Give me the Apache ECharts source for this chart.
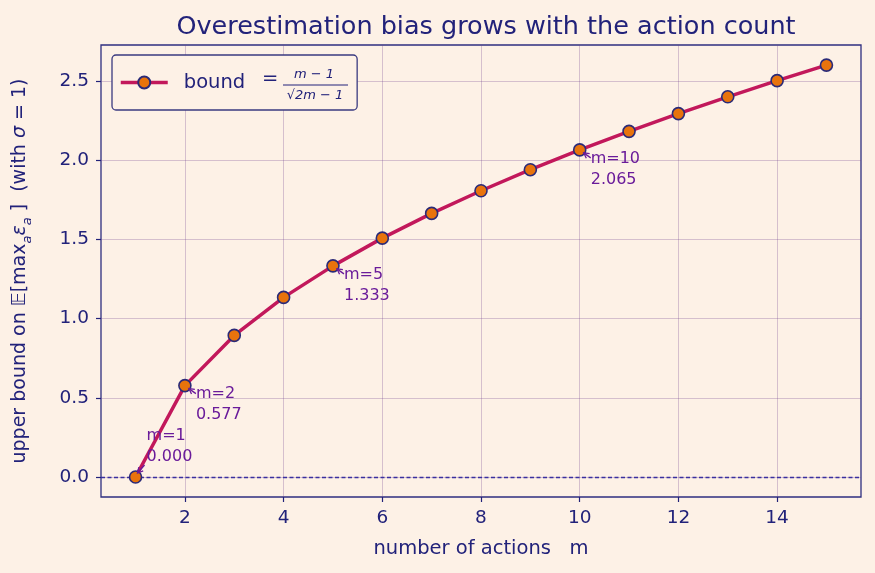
<!DOCTYPE html>
<html>
<head>
<meta charset="utf-8">
<script src="https://cdn.jsdelivr.net/npm/echarts@6/dist/echarts.min.js"></script>
<style>
  html, body { margin: 0; padding: 0; background: #fdf1e6; }
  #chart { width: 875px; height: 573px; }
</style>
</head>
<body>
<div id="chart"></div>
<script>
// number of actions m and the bound (m-1)/sqrt(2m-1)
const actions = [1, 2, 3, 4, 5, 6, 7, 8, 9, 10, 11, 12, 13, 14, 15]
const bound = [0.000, 0.577, 0.894, 1.134, 1.333, 1.508, 1.664, 1.807, 1.940, 2.065, 2.182, 2.294, 2.400, 2.502, 2.600]

// annotated points
const noteActions = [1, 2, 5, 10]
const noteValues = [0.000, 0.577, 1.333, 2.065]

const xTicks = [2, 4, 6, 8, 10, 12, 14]
const yTicks = [0, 0.5, 1.0, 1.5, 2.0, 2.5]

const navy = '#22227a'
const purple = '#6a1b9a'
const font = 'DejaVu Sans'

const chart = echarts.init(document.getElementById('chart'))

const option = {
  backgroundColor: '#fdf1e6',
  textStyle: { fontFamily: font },
  title: {
    text: 'Overestimation bias grows with the action count',
    left: 481,
    top: 9,
    textAlign: 'center',
    textStyle: { color: navy, fontSize: 25.5, fontWeight: 'normal', fontFamily: font }
  },
  grid: {
    left: 101, right: 14, top: 45, bottom: 76,
    show: true,
    borderColor: '#2e2e80',
    borderWidth: 1.3,
    backgroundColor: 'transparent'
  },
  legend: {
    left: 112,
    top: 55,
    orient: 'vertical',
    data: ['bound'],
    itemWidth: 47,
    itemHeight: 15,
    padding: [17.5, 112, 17.5, 7],
    backgroundColor: '#fdf1e6',
    borderColor: '#3a3a80',
    borderWidth: 1.3,
    borderRadius: 4,
    lineStyle: { width: 3.5 },
    textStyle: { color: navy, fontSize: 19.5, fontFamily: font, padding: [0, 0, 0, 11] }
  },
  xAxis: {
    type: 'value',
    min: 0.3,
    max: 15.7,
    name: 'number of actions   m',
    nameLocation: 'middle',
    nameGap: 42,
    nameTextStyle: { color: navy, fontSize: 19.5, fontFamily: font },
    axisLine: { show: false, onZero: false },
    axisTick: { show: true, inside: false, customValues: xTicks, length: 5, lineStyle: { color: navy, width: 1.2 } },
    axisLabel: { customValues: xTicks, color: navy, fontSize: 18.5, margin: 12, fontFamily: font },
    splitLine: { show: true, lineStyle: { color: 'rgba(110, 60, 140, 0.28)', width: 1 } }
  },
  yAxis: {
    type: 'value',
    min: -0.126,
    max: 2.727,
    name: '{n|upper bound on 𝔼[max}{s|a}{i|ε}{s|a}{n| ]  (with }{i|σ}{n| = 1)}',
    nameLocation: 'middle',
    nameGap: 67,
    nameTextStyle: {
      color: navy, fontSize: 19, fontFamily: font,
      rich: {
        n: { color: navy, fontSize: 19, fontFamily: font },
        i: { color: navy, fontSize: 19, fontFamily: font, fontStyle: 'italic' },
        s: { color: navy, fontSize: 13, fontFamily: font, fontStyle: 'italic', padding: [14, 0, 0, 0] }
      }
    },
    axisLine: { show: false, onZero: false },
    axisTick: { show: true, inside: false, customValues: yTicks, length: 5, lineStyle: { color: navy, width: 1.2 } },
    axisLabel: {
      customValues: yTicks, color: navy, fontSize: 18.5, margin: 12, fontFamily: font,
      formatter: v => v.toFixed(1)
    },
    splitLine: { show: true, lineStyle: { color: 'rgba(110, 60, 140, 0.28)', width: 1 } }
  },
  graphic: [
    { type: 'text', left: 262, top: 69, style: { text: '=', fill: navy, font: '19.5px DejaVu Sans' }, z: 100 },
    { type: 'text', x: 314, y: 75, style: { text: 'm − 1', fill: navy, font: 'italic 13px DejaVu Sans', align: 'center', verticalAlign: 'middle' }, z: 100 },
    { type: 'line', shape: { x1: 283, y1: 85, x2: 348, y2: 85 }, style: { stroke: navy, lineWidth: 1 }, z: 100 },
    { type: 'text', x: 315, y: 96, style: { text: '√2m − 1', fill: navy, font: 'italic 13px DejaVu Sans', align: 'center', verticalAlign: 'middle' }, z: 100 }
  ],
  series: [
    {
      name: 'bound',
      type: 'line',
      data: actions.map((m, i) => [m, bound[i]]),
      lineStyle: { color: '#c2185b', width: 3.5 },
      itemStyle: { color: '#e8730c', borderColor: '#2a2a78', borderWidth: 1.6 },
      symbol: 'circle',
      symbolSize: 12,
      z: 5,
      markLine: {
        silent: true,
        symbol: 'none',
        label: { show: false },
        lineStyle: { color: '#3a30a0', type: [4, 2.5], width: 1.3 },
        data: [{ yAxis: 0 }],
        z: 2
      }
    },
    {
      name: 'notes',
      type: 'custom',
      data: noteActions.map((m, i) => [m, noteValues[i]]),
      z: 10,
      renderItem: (params, api) => {
        const p = api.coord([api.value(0), api.value(1)])
        const first = params.dataIndex === 0
        const tx = p[0] + 11
        const ty = p[1] + (first ? -52 : -2)
        const from = first ? [p[0] + 9, p[1] - 12] : [p[0] + 11, p[1] + 8]
        const to = first ? [p[0] + 2, p[1] - 4] : [p[0] + 4, p[1] + 3]
        const label = 'm=' + api.value(0) + '\n' + api.value(1).toFixed(3)
        const ang = Math.atan2(to[1] - from[1], to[0] - from[0])
        const L = 6, w = 0.5
        return {
          type: 'group',
          children: [
            {
              type: 'line',
              shape: { x1: from[0], y1: from[1], x2: to[0], y2: to[1] },
              style: { stroke: purple, lineWidth: 1.3 }
            },
            {
              type: 'polyline',
              shape: {
                points: [
                  [to[0] - L * Math.cos(ang - w), to[1] - L * Math.sin(ang - w)],
                  to,
                  [to[0] - L * Math.cos(ang + w), to[1] - L * Math.sin(ang + w)]
                ]
              },
              style: { stroke: purple, lineWidth: 1.3, fill: null }
            },
            {
              type: 'text',
              x: tx,
              y: ty,
              style: {
                text: label,
                fill: purple,
                font: '16px DejaVu Sans',
                lineHeight: 21,
                align: 'left',
                verticalAlign: 'top'
              }
            }
          ]
        }
      }
    }
  ]
}

chart.setOption(option)
</script>
</body>
</html>
